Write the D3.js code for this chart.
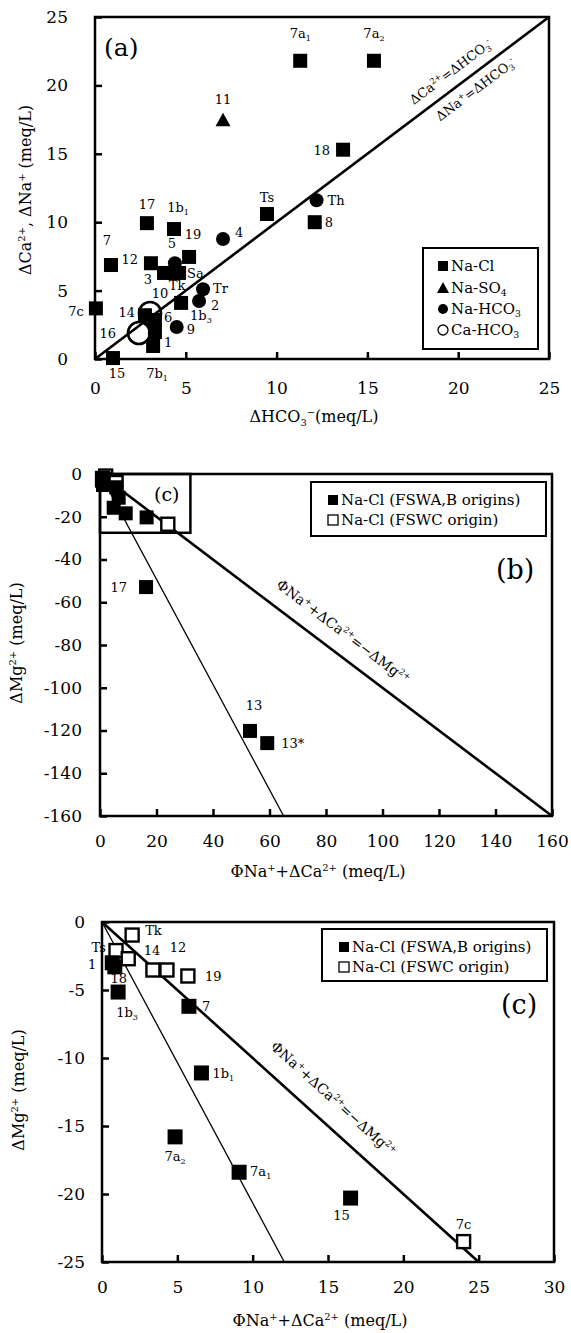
<!DOCTYPE html>
<html>
<head>
<meta charset="utf-8">
<script src="https://cdn.jsdelivr.net/npm/d3@7"></script>
<style>
body { margin: 0; background: #fff; }
text { font-family: "DejaVu Serif", serif; fill: #000; }
</style>
</head>
<body>
<div id="viz"></div>
<script>
var width = 571, height = 1333;
var svg = d3.select("#viz").append("svg").attr("width", width).attr("height", height);

// ---- panel (a) data : dHCO3 vs dCa+dNa ----
var aNaCl = [
  {name: "7a_{1}", x: 11.3, y: 21.8}, {name: "7a_{2}", x: 15.36, y: 21.8},
  {name: "18", x: 13.66, y: 15.3}, {name: "8", x: 12.1, y: 10.0},
  {name: "Ts", x: 9.47, y: 10.6}, {name: "17", x: 2.86, y: 9.93},
  {name: "1b_{1}", x: 4.35, y: 9.5}, {name: "19", x: 5.18, y: 7.46},
  {name: "7", x: 0.88, y: 6.87}, {name: "12", x: 3.08, y: 7.0},
  {name: "3", x: 3.8, y: 6.29}, {name: "Tk", x: 4.3, y: 6.29},
  {name: "Sa", x: 4.63, y: 6.29}, {name: "1b_{3}", x: 4.74, y: 4.1},
  {name: "14", x: 2.75, y: 3.2}, {name: "6", x: 3.3, y: 2.85},
  {name: "1", x: 3.3, y: 1.97}, {name: "7b_{1}", x: 3.2, y: 0.95},
  {name: "15", x: 0.99, y: 0.07}, {name: "7c", x: 0.05, y: 3.7}
];
var aNaSO4 = [{name: "11", x: 7.05, y: 17.5}];
var aNaHCO3 = [
  {name: "Th", x: 12.2, y: 11.6}, {name: "4", x: 7.05, y: 8.77},
  {name: "5", x: 4.4, y: 7.0}, {name: "Tr", x: 5.95, y: 5.1},
  {name: "2", x: 5.73, y: 4.24}, {name: "9", x: 4.5, y: 2.34}
];
var aCaHCO3 = [{name: "10", x: 3.03, y: 3.36}, {name: "16", x: 2.42, y: 1.9}];
var aTicks = [0, 5, 10, 15, 20, 25];

// ---- panels (b),(c) data : PhiNa+dCa vs dMg ----
var cFSWAB = [
  {name: "1", x: 0.68, y: -3.0}, {name: "18", x: 0.85, y: -3.3},
  {name: "1b_{3}", x: 1.07, y: -5.15}, {name: "7", x: 5.77, y: -6.2},
  {name: "1b_{1}", x: 6.6, y: -11.1}, {name: "7a_{2}", x: 4.85, y: -15.8},
  {name: "7a_{1}", x: 9.1, y: -18.4}, {name: "15", x: 16.5, y: -20.3}
];
var cFSWC = [
  {name: "Tk", x: 2.0, y: -0.96}, {name: "Ts", x: 0.93, y: -2.1},
  {name: "", x: 1.74, y: -2.7}, {name: "14", x: 3.38, y: -3.53},
  {name: "12", x: 4.31, y: -3.53}, {name: "19", x: 5.7, y: -3.97},
  {name: "7c", x: 24.0, y: -23.5}
];
var bFSWAB = [{name: "17", x: 16.3, y: -52.9}, {name: "13", x: 53.1, y: -120.2}, {name: "13*", x: 59.2, y: -125.9}];
var bXTicks = [0, 20, 40, 60, 80, 100, 120, 140, 160];
var bYTicks = [0, -20, -40, -60, -80, -100, -120, -140, -160];
var cXTicks = [0, 5, 10, 15, 20, 25, 30];
var cYTicks = [0, -5, -10, -15, -20, -25];
var bInset = {x: [0, 32], y: [0, -27.5]};
var bThin = [[0, 0], [65, -160]], bThick = [[0, 0], [160, -160]];
var cThin = [[0, 0], [12.1, -25]], cThick = [[0, 0], [25, -25]];

// label offsets [dx, dy, anchor]
var aLab = {
  "7a_{1}": [0, -23, "middle"], "7a_{2}": [0, -23, "middle"], "18": [-13, 5, "end"], "8": [10, 5, "start"],
  "Ts": [0, -12, "middle"], "17": [0, -14, "middle"], "1b_{1}": [4, -17, "middle"], "19": [4, -18, "middle"],
  "7": [-4, -20, "middle"], "12": [-13, 1, "end"], "3": [-16, 11, "middle"], "Tk": [4, 17, "middle"],
  "Sa": [8, 5, "start"], "1b_{3}": [9, 17, "start"], "14": [-10, 2, "end"], "6": [9, 2, "start"],
  "1": [9, 15, "start"], "7b_{1}": [4, 32, "middle"], "15": [4, 20, "middle"], "7c": [-12, 8, "end"],
  "11": [0, -16, "middle"], "Th": [11, 5, "start"], "4": [12, -2, "start"], "5": [-3, -15, "middle"],
  "Tr": [10, 4, "start"], "2": [12, 9, "start"], "9": [10, 7, "start"], "10": [10, -15, "middle"],
  "16": [-23, 5, "end"]
};
var bLab = {"17": [-19, 5, "end"], "13": [4, -21, "middle"], "13*": [14, 5, "start"]};
var cLab = {
  "Tk": [13, 0, "start"], "Ts": [-10, 1, "end"], "1": [-16, 6, "end"], "18": [4, 16, "middle"],
  "14": [-1, -15, "middle"], "12": [11, -18, "middle"], "19": [17, 5, "start"], "7": [13, 5, "start"],
  "1b_{3}": [9, 25, "middle"], "1b_{1}": [11, 5, "start"], "7a_{2}": [0, 24, "middle"],
  "7a_{1}": [11, 4, "start"], "15": [-9, 22, "middle"], "7c": [0, -13, "middle"]
};

// text with ^{sup} and _{sub}
function rich(sel, str, fs) {
  var parts = str.split(/(\^\{[^}]*\}|_\{[^}]*\})/).filter(function(s) { return s.length; });
  var shift = 0;
  parts.forEach(function(p) {
    var t = sel.append("tspan");
    if (p.indexOf("^{") == 0) {
      var s = -fs * 0.38;
      t.text(p.slice(2, -1)).style("font-size", (fs * 0.62) + "px").attr("dy", s - shift);
      shift = s;
    } else if (p.indexOf("_{") == 0) {
      var s2 = fs * 0.22;
      t.text(p.slice(2, -1)).style("font-size", (fs * 0.62) + "px").attr("dy", s2 - shift);
      shift = s2;
    } else {
      t.text(p).attr("dy", -shift);
      shift = 0;
    }
  });
  return sel;
}

function makePanel(c) {
  var x = d3.scaleLinear().domain(c.xd).range([c.left, c.right]);
  var y = d3.scaleLinear().domain(c.yd).range([c.bottom, c.top]);
  var g = svg.append("g");

  var ax = g.append("g").attr("transform", "translate(0," + c.bottom + ")")
      .call(d3.axisBottom(x).tickValues(c.xt).tickSizeInner(-7).tickSizeOuter(0)
        .tickPadding(c.xpad).tickFormat(function(d) { return String(d); }));
  var ay = g.append("g").attr("transform", "translate(" + c.left + ",0)")
      .call(d3.axisLeft(y).tickValues(c.yt).tickSizeInner(-7).tickSizeOuter(0)
        .tickPadding(c.ypad).tickFormat(function(d) { return String(d); }));
  [ax, ay].forEach(function(a) {
    a.attr("font-family", null).attr("font-size", null);
    a.select(".domain").remove();
    a.selectAll("line").attr("stroke", "#000").attr("stroke-width", 2.5);
    a.selectAll("text").style("font-size", "17px");
  });

  g.append("rect")
      .attr("x", c.left).attr("y", c.top)
      .attr("width", c.right - c.left).attr("height", c.bottom - c.top)
      .attr("fill", "none").attr("stroke", "#000").attr("stroke-width", 2.5);

  g.append("text").attr("text-anchor", "middle")
      .attr("x", (c.left + c.right) / 2 - 8).attr("y", c.bottom + c.xtitle)
      .style("font-size", "16px").call(rich, c.xlabel, 16);
  g.append("text").attr("text-anchor", "middle")
      .attr("transform", "translate(" + c.ytx + "," + c.yty + ") rotate(-90)")
      .style("font-size", "16px").call(rich, c.ylabel, 16);

  return {x: x, y: y, g: g};
}

function lineAt(p, seg, w) {
  p.g.append("line")
      .attr("x1", p.x(seg[0][0])).attr("y1", p.y(seg[0][1]))
      .attr("x2", p.x(seg[1][0])).attr("y2", p.y(seg[1][1]))
      .attr("stroke", "#000").attr("stroke-width", w);
}

// text along a line: u = data x of foot point, off = px perpendicular (positive = above)
function lineText(p, seg, u, off, str, fs) {
  var x0 = p.x(seg[0][0]), y0 = p.y(seg[0][1]), x1 = p.x(seg[1][0]), y1 = p.y(seg[1][1]);
  var len = Math.hypot(x1 - x0, y1 - y0), ux = (x1 - x0) / len, uy = (y1 - y0) / len;
  var t = (u - seg[0][0]) / (seg[1][0] - seg[0][0]);
  var px = x0 + t * (x1 - x0), py = y0 + t * (y1 - y0);
  // normal pointing "up" on screen
  var nx = uy, ny = -ux;
  if (ny > 0) { nx = -nx; ny = -ny; }
  var ang = Math.atan2(y1 - y0, x1 - x0) * 180 / Math.PI;
  p.g.append("text").attr("text-anchor", "middle")
      .attr("transform", "translate(" + (px + nx * off) + "," + (py + ny * off) + ") rotate(" + ang + ")")
      .attr("dy", "0.35em")
      .style("font-size", fs + "px").call(rich, str, fs);
}

function squares(p, data, open, s) {
  p.g.selectAll(null).data(data).enter().append("rect")
      .attr("x", function(d) { return p.x(d.x) - s / 2; })
      .attr("y", function(d) { return p.y(d.y) - s / 2; })
      .attr("width", s).attr("height", s)
      .attr("fill", open ? "#fff" : "#000")
      .attr("stroke", "#000").attr("stroke-width", open ? 2.4 : 0);
}

function circles(p, data, open, r) {
  p.g.selectAll(null).data(data).enter().append("circle")
      .attr("cx", function(d) { return p.x(d.x); })
      .attr("cy", function(d) { return p.y(d.y); })
      .attr("r", r)
      .attr("fill", open ? "none" : "#000")
      .attr("stroke", "#000").attr("stroke-width", open ? 2.6 : 0);
}

function triangles(p, data, s) {
  p.g.selectAll(null).data(data).enter().append("path")
      .attr("d", function(d) {
        var cx = p.x(d.x), cy = p.y(d.y), h = s * 0.9;
        return "M" + cx + "," + (cy - h / 2) + "L" + (cx + s / 2) + "," + (cy + h / 2) + "L" + (cx - s / 2) + "," + (cy + h / 2) + "Z";
      })
      .attr("fill", "#000");
}

function labels(p, data, pos, fs) {
  data.forEach(function(d) {
    var o = pos[d.name];
    if (!o) return;
    p.g.append("text").attr("text-anchor", o[2])
        .attr("x", p.x(d.x) + o[0]).attr("y", p.y(d.y) + o[1])
        .style("font-size", fs + "px").call(rich, d.name, fs);
  });
}

function legend(g, x0, y0, w, h, items, fs) {
  g.append("rect").attr("x", x0).attr("y", y0).attr("width", w).attr("height", h)
      .attr("fill", "#fff").attr("stroke", "#000").attr("stroke-width", 2);
  items.forEach(function(it) {
    var mx = x0 + it.mx, my = y0 + it.my;
    if (it.type == "sq" || it.type == "osq") {
      g.append("rect").attr("x", mx - 5).attr("y", my - 5).attr("width", 10).attr("height", 10)
          .attr("fill", it.type == "sq" ? "#000" : "#fff").attr("stroke", "#000").attr("stroke-width", it.type == "sq" ? 0 : 1.3);
    } else if (it.type == "tri") {
      g.append("path").attr("d", "M" + mx + "," + (my - 6) + "L" + (mx + 6) + "," + (my + 5) + "L" + (mx - 6) + "," + (my + 5) + "Z");
    } else {
      g.append("circle").attr("cx", mx).attr("cy", my).attr("r", 5)
          .attr("fill", it.type == "ci" ? "#000" : "#fff").attr("stroke", "#000").attr("stroke-width", it.type == "ci" ? 0 : 1.3);
    }
    g.append("text").attr("x", mx + 8).attr("y", my + 5)
        .style("font-size", fs + "px").call(rich, it.text, fs);
  });
}

// ================= panel (a) =================
var pa = makePanel({
  xd: [0, 25], yd: [0, 25], left: 95, right: 549, top: 17, bottom: 359,
  xt: aTicks, yt: aTicks, xpad: 23, ypad: 27, xtitle: 63,
  xlabel: "ΔHCO_{3}^{−}(meq/L)", ylabel: "ΔCa^{2+}, ΔNa^{+} (meq/L)", ytx: 31, yty: 190
});
lineAt(pa, [[0, 0], [25, 25]], 2.6);
lineText(pa, [[0, 0], [25, 25]], 20.1, 11, "ΔCa^{2+}=ΔHCO_{3}^{-}", 13);
lineText(pa, [[0, 0], [25, 25]], 20.5, -18, "ΔNa^{+}=ΔHCO_{3}^{-}", 13);
squares(pa, aNaCl, false, 14);
triangles(pa, aNaSO4, 15);
circles(pa, aNaHCO3, false, 7);
circles(pa, aCaHCO3, true, 11);
labels(pa, aNaCl.concat(aNaSO4, aNaHCO3, aCaHCO3), aLab, 13);
pa.g.append("text").attr("x", 104).attr("y", 56).style("font-size", "25px").text("(a)");
legend(pa.g, 423, 248, 115, 101, [
  {type: "sq", text: "Na-Cl", mx: 20, my: 18},
  {type: "tri", text: "Na-SO_{4}", mx: 20, my: 40},
  {type: "ci", text: "Na-HCO_{3}", mx: 20, my: 61},
  {type: "oci", text: "Ca-HCO_{3}", mx: 20, my: 82}
], 15);

// ================= panel (b) =================
var pb = makePanel({
  xd: [0, 160], yd: [-160, 0], left: 100, right: 552, top: 474, bottom: 816,
  xt: bXTicks, yt: bYTicks, xpad: 19, ypad: 18, xtitle: 61,
  xlabel: "ΦNa^{+}+ΔCa^{2+} (meq/L)", ylabel: "ΔMg^{2+} (meq/L)", ytx: 22, yty: 643
});
lineAt(pb, bThin, 1.3);
lineAt(pb, bThick, 2.6);
lineText(pb, bThick, 81.6, 16, "ΦNa^{+}+ΔCa^{2+}=−ΔMg^{2+}", 14);
pb.g.append("rect")
    .attr("x", pb.x(bInset.x[0])).attr("y", pb.y(bInset.y[0]))
    .attr("width", pb.x(bInset.x[1]) - pb.x(bInset.x[0]))
    .attr("height", pb.y(bInset.y[1]) - pb.y(bInset.y[0]))
    .attr("fill", "none").attr("stroke", "#000").attr("stroke-width", 2.5);
pb.g.append("text").attr("x", 154).attr("y", 501).style("font-size", "19px").text("(c)");
squares(pb, cFSWC, true, 13);
squares(pb, cFSWAB.concat(bFSWAB), false, 14);
labels(pb, bFSWAB, bLab, 13);
legend(pb.g, 311, 482, 235, 54, [
  {type: "sq", text: "Na-Cl (FSWA,B origins)", mx: 22, my: 18},
  {type: "osq", text: "Na-Cl (FSWC origin)", mx: 22, my: 38}
], 15);
pb.g.append("text").attr("x", 496).attr("y", 579).style("font-size", "27px").text("(b)");

// ================= panel (c) =================
var pc = makePanel({
  xd: [0, 30], yd: [-25, 0], left: 102, right: 554, top: 922, bottom: 1262,
  xt: cXTicks, yt: cYTicks, xpad: 19, ypad: 17, xtitle: 64,
  xlabel: "ΦNa^{+}+ΔCa^{2+} (meq/L)", ylabel: "ΔMg^{2+} (meq/L)", ytx: 24, yty: 1090
});
lineAt(pc, cThin, 1.3);
lineAt(pc, cThick, 2.6);
lineText(pc, cThick, 14.3, 19, "ΦNa^{+}+ΔCa^{2+}=−ΔMg^{2+}", 14);
squares(pc, cFSWC, true, 13);
squares(pc, cFSWAB, false, 15);
labels(pc, cFSWC.concat(cFSWAB), cLab, 13);
legend(pc.g, 322, 929, 225, 52, [
  {type: "sq", text: "Na-Cl (FSWA,B origins)", mx: 22, my: 18},
  {type: "osq", text: "Na-Cl (FSWC origin)", mx: 22, my: 38}
], 15);
pc.g.append("text").attr("x", 501).attr("y", 1014).style("font-size", "27px").text("(c)");
</script>
</body>
</html>
